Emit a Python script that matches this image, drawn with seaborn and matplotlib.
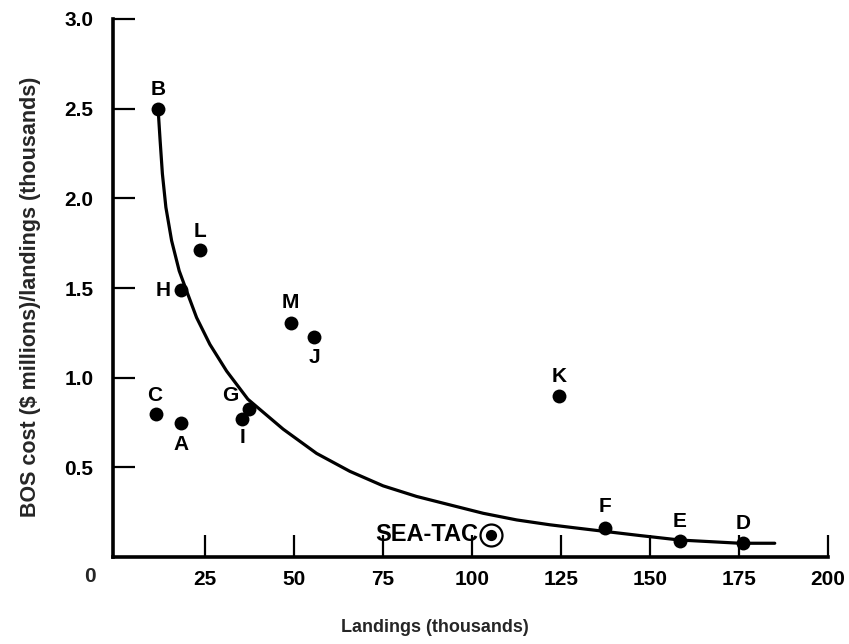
import matplotlib
matplotlib.use("Agg")
import matplotlib.pyplot as plt
import pandas as pd
import seaborn as sns

# Airports: landings (thousands) vs BOS cost ($ millions) per thousand landings
airports = ["A", "B", "C", "D", "E", "F", "G", "H", "I", "J", "K", "L", "M", "SEA-TAC"]
landings = [18.4, 11.9, 11.2, 176.2, 158.4, 137.4, 37.4, 18.2, 35.3, 55.7, 124.5, 23.6, 49.1, 105.5]
bos_cost = [0.75, 2.50, 0.80, 0.077, 0.090, 0.164, 0.826, 1.488, 0.767, 1.227, 0.897, 1.712, 1.307, 0.124]

# Fitted trend curve
curve_x = [11.88, 12.42, 13.06, 14.04, 15.65, 17.78, 19.86, 22.67, 26.40, 31.10, 37.08,
           47.0, 56.38, 65.73, 75.08, 84.47, 93.82, 103.2, 112.6, 121.9, 128.5, 137.8,
           147.2, 158.4, 175.3, 185.1]
curve_y = [2.491, 2.323, 2.137, 1.950, 1.764, 1.596, 1.484, 1.335, 1.186, 1.037, 0.880,
           0.713, 0.578, 0.478, 0.397, 0.338, 0.291, 0.244, 0.207, 0.180, 0.164, 0.142,
           0.120, 0.095, 0.077, 0.077]

x_ticks = [25, 50, 75, 100, 125, 150, 175, 200]
y_ticks = [0.5, 1.0, 1.5, 2.0, 2.5, 3.0]

# label placement (pixel offsets from the point, horizontal alignment)
label_layout = {
    "A": (0, -22, "center"), "B": (0, 19, "center"), "C": (-1, 18, "center"),
    "D": (0, 20, "center"), "E": (0, 19, "center"), "F": (0, 21, "center"),
    "G": (-19, 13, "center"), "H": (-18, 0, "center"), "I": (1, -18, "center"),
    "J": (0, -21, "center"), "K": (0, 20, "center"), "L": (0, 19, "center"),
    "M": (0, 20, "center"), "SEA-TAC": (-13, 0, "right"),
}

df = pd.DataFrame({"airport": airports, "landings": landings, "cost": bos_cost})
curve = pd.DataFrame({"x": curve_x, "y": curve_y})

sns.set_theme(style="ticks")
plt.rcParams["font.family"] = ["Liberation Sans", "DejaVu Sans"]
plt.rcParams["font.weight"] = "bold"

fig = plt.figure(figsize=(8.49, 6.44), dpi=100)
ax = fig.add_axes([0.133, 0.135, 0.842, 0.8355])

sns.lineplot(data=curve, x="x", y="y", sort=False, estimator=None,
             color="black", linewidth=2.3, ax=ax, zorder=2)
for ln in ax.get_lines():
    ln.set_solid_joinstyle("round")
    ln.set_solid_capstyle("round")

regular = df[df["airport"] != "SEA-TAC"]
special = df[df["airport"] == "SEA-TAC"]
sns.scatterplot(data=regular, x="landings", y="cost", color="black", s=100,
                edgecolor="black", linewidth=0, ax=ax, zorder=3)
sns.scatterplot(data=special, x="landings", y="cost", color="white", s=250,
                edgecolor="black", linewidth=1.6, ax=ax, zorder=3)
sns.scatterplot(data=special, x="landings", y="cost", color="black", s=65,
                edgecolor="black", linewidth=0, ax=ax, zorder=4)

for name, xv, yv in zip(airports, landings, bos_cost):
    dx, dy, ha = label_layout[name]
    ax.annotate(name, xy=(xv, yv), xytext=(dx, dy), textcoords="offset pixels",
                ha=ha, va="center", fontsize=17 if name == "SEA-TAC" else 15,
                fontweight="bold", color="black")

ax.set_xlim(-0.84, 200)
ax.set_ylim(0, 3.0)
ax.set_xticks(x_ticks)
ax.set_yticks(y_ticks)
ax.set_xticklabels([str(t) for t in x_ticks])
ax.set_yticklabels([f"{t:.1f}" for t in y_ticks])
ax.tick_params(axis="both", direction="in", length=16, width=1.6, colors="black",
               labelsize=15)
ax.tick_params(axis="x", pad=9)
ax.tick_params(axis="y", pad=14)
for lbl in ax.get_xticklabels() + ax.get_yticklabels():
    lbl.set_fontweight("bold")

ax.annotate("0", xy=(0, 0), xytext=(-26, -19), textcoords="offset pixels",
            ha="center", va="center", fontsize=15, fontweight="bold",
            annotation_clip=False)

sns.despine(ax=ax)
for side in ("left", "bottom"):
    ax.spines[side].set_linewidth(2.6)
    ax.spines[side].set_color("black")

ax.set_xlabel("Landings (thousands)", fontsize=13, fontweight="bold")
ax.xaxis.set_label_coords(0.450, -0.115)
ax.set_ylabel("BOS cost ($ millions)/landings (thousands)", fontsize=15.5,
              fontweight="bold")
ax.yaxis.set_label_coords(-0.100, 0.483)

fig.savefig("out.png", dpi=100, facecolor="white")
